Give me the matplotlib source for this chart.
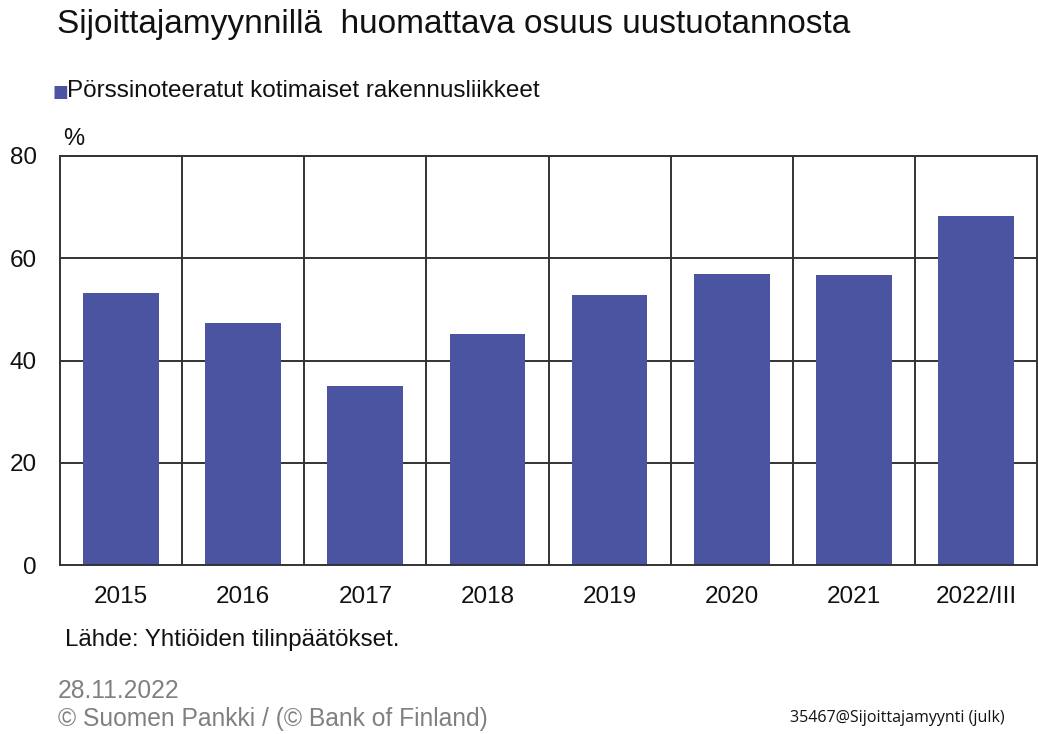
import matplotlib
matplotlib.use("Agg")
import matplotlib.pyplot as plt
import numpy as np

# Share of new housing sold to investors, listed domestic construction firms (%)
years = ["2015", "2016", "2017", "2018", "2019", "2020", "2021", "2022/III"]
share = [53.2, 47.3, 35.0, 45.2, 52.8, 57.0, 56.7, 68.2]
yticks = [0, 20, 40, 60, 80]

bar_color = "#4b54a0"
grid_color = "#333333"
text_color = "#111111"

plt.rcParams["font.family"] = ["Liberation Sans", "DejaVu Sans"]

fig = plt.figure(figsize=(10.38, 7.34), dpi=100)
ax = fig.add_axes([60 / 1038, 1 - 565 / 734, 977 / 1038, 409 / 734])

x = np.arange(len(years))
ax.bar(x, share, width=0.62, color=bar_color, zorder=3)

ax.set_xlim(-0.5, len(years) - 0.5)
ax.set_ylim(0, 80)
ax.set_yticks(yticks)
ax.set_xticks(x)
ax.set_xticklabels(years)

# grid: horizontal at value ticks, vertical at category boundaries
for v in yticks[1:]:
    ax.axhline(v, color=grid_color, lw=1.4, zorder=1)
for b in np.arange(0.5, len(years) - 0.5):
    ax.axvline(b, color=grid_color, lw=1.4, zorder=1)

for s in ax.spines.values():
    s.set_color(grid_color)
    s.set_linewidth(1.4)
    s.set_zorder(4)

ax.tick_params(axis="both", length=0, labelsize=17.5, colors=text_color)
ax.tick_params(axis="y", pad=16.5)
ax.tick_params(axis="x", pad=15)

fig.text(57 / 1038, 1 - 25 / 734, "Sijoittajamyynnillä  huomattava osuus uustuotannosta",
         fontsize=24, va="center", ha="left", color=text_color)

# legend entry
fig.text(53 / 1038, 1 - 92 / 734, "\u25a0", fontsize=12, color=bar_color,
         va="center", ha="left", family="DejaVu Sans")
fig.text(67 / 1038, 1 - 91 / 734, "Pörssinoteeratut kotimaiset rakennusliikkeet",
         fontsize=17.5, va="center", ha="left", color=text_color)

fig.text(63 / 1038, 1 - 139 / 734, "%", fontsize=17, va="center", ha="left", color=text_color)

fig.text(65 / 1038, 1 - 640 / 734, "Lähde: Yhtiöiden tilinpäätökset.",
         fontsize=17.4, va="center", ha="left", color=text_color)
fig.text(58 / 1038, 1 - 691 / 734, "28.11.2022",
         fontsize=17.7, va="center", ha="left", color="#808080")
fig.text(58 / 1038, 1 - 719 / 734, "© Suomen Pankki / (© Bank of Finland)",
         fontsize=17.7, va="center", ha="left", color="#808080")
fig.text(790 / 1038, 1 - 718 / 734, "35467@Sijoittajamyynti (julk)",
         fontsize=11.5, va="center", ha="left", color=text_color, family="Open Sans")

fig.savefig("out.png", dpi=100)
